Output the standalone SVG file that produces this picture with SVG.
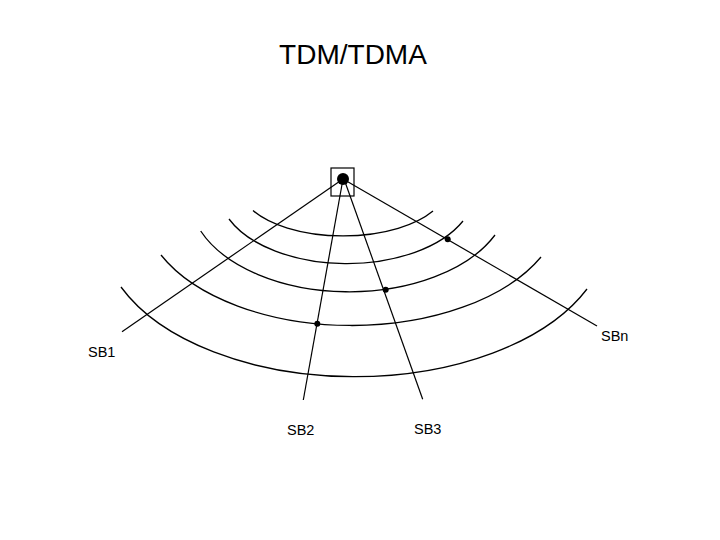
<svg xmlns="http://www.w3.org/2000/svg" width="720" height="540" viewBox="0 0 720 540">
<style>
.ln{fill:none;stroke:#000;stroke-width:1.2}
.arc{fill:none;stroke:#000;stroke-width:1.3}
.dot{fill:#000}
.lbl{font-family:"Liberation Sans",Arial,sans-serif;font-size:14.5px;fill:#000}
.title{font-family:"Liberation Sans",Arial,sans-serif;font-size:28px;fill:#000}
</style>
<rect width="720" height="540" fill="#fff"/>
<g id="title"><text class="title" x="353" y="64" text-anchor="middle">TDM/TDMA</text></g>
<g id="arcs">
<path class="arc" d="M253,210.5 A104,50.5 0 0 0 433,211"/>
<path class="arc" d="M229,219 A128,73.3 0 0 0 463,221"/>
<path class="arc" d="M200.7,231 A160,96.7 0 0 0 495,235"/>
<path class="arc" d="M161,255 A210,121 0 0 0 541,257"/>
<path class="arc" d="M121,287 A253.7,146.7 0 0 0 587,289"/>
</g>
<g id="connectors">
<line class="ln" x1="343" y1="179" x2="122" y2="331.7"/>
<line class="ln" x1="343" y1="179" x2="303.3" y2="400"/>
<line class="ln" x1="344" y1="179" x2="422.7" y2="399.3"/>
<line class="ln" x1="343" y1="179" x2="597" y2="326"/>
</g>
<g id="base-station">
<rect x="331" y="168" width="23" height="28" fill="none" stroke="#000" stroke-width="1.2"/>
<circle class="dot" cx="343" cy="179" r="6"/>
</g>
<g id="SB1"><text class="lbl" x="88" y="357">SB1</text></g>
<g id="SB2"><circle class="dot" cx="317.3" cy="323.7" r="3"/><text class="lbl" x="287" y="435">SB2</text></g>
<g id="SB3"><circle class="dot" cx="385.7" cy="289.7" r="3"/><text class="lbl" x="414" y="434">SB3</text></g>
<g id="SBn"><circle class="dot" cx="447.7" cy="239.3" r="3"/><text class="lbl" x="601" y="340.7">SBn</text></g>
</svg>
